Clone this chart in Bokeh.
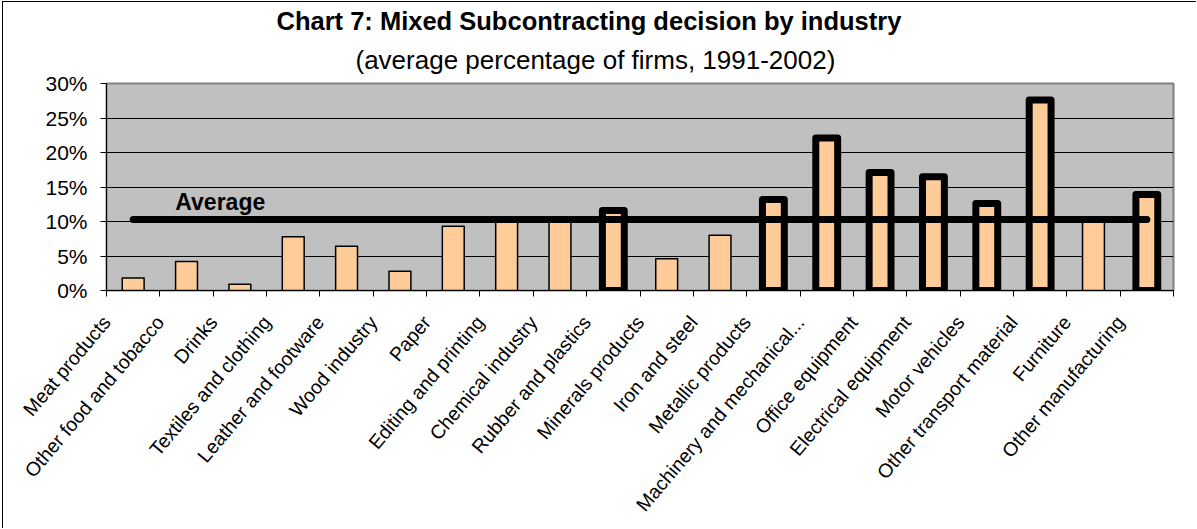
import math
from bokeh.plotting import figure
from bokeh.models import Range1d, FixedTicker, NumeralTickFormatter, Title, ColumnDataSource
from bokeh.core.properties import value
from bokeh.embed import file_html
from bokeh.resources import INLINE

industries = [
    "Meat products", "Other food and tobacco", "Drinks", "Textiles and clothing",
    "Leather and footware", "Wood industry", "Paper", "Editing and printing",
    "Chemical industry", "Rubber and plastics", "Minerals products", "Iron and steel",
    "Metallic products", "Machinery and mechanical...", "Office equipment",
    "Electrical equipment", "Motor vehicles", "Other transport material",
    "Furniture", "Other manufacturing",
]
shares = [0.018, 0.042, 0.009, 0.078, 0.064, 0.028, 0.093, 0.100, 0.100, 0.116,
          0.046, 0.080, 0.132, 0.221, 0.171, 0.165, 0.126, 0.276, 0.100, 0.139]
average = 0.103
y_ticks = [0.0, 0.05, 0.10, 0.15, 0.20, 0.25, 0.30]

FONT = "Liberation Sans"
n = len(industries)
centers = [i + 0.5 for i in range(n)]
boundaries = list(range(n + 1))
widths = [7 if s > average else 1.5 for s in shares]
src = ColumnDataSource(dict(x=centers, top=shares, lw=widths))

p = figure(width=1194, height=527, output_backend="svg", toolbar_location=None,
           x_range=Range1d(0, n), y_range=Range1d(0, 0.30),
           min_border_left=103, min_border_right=24, min_border_top=81, min_border_bottom=239,
           background_fill_color="white", border_fill_color="white")
p.styles = {"border-left": "1px solid black", "border-top": "1px solid black",
            "margin-left": "2px", "margin-top": "1px"}
p.title = None

sub = Title(text="(average percentage of firms, 1991-2002)", align="left", offset=249,
            text_font=FONT, text_font_size="26px", text_font_style="normal", text_color="black",
            standoff=17)
main = Title(text="Chart 7: Mixed Subcontracting decision by industry", align="left", offset=170,
             text_font=FONT, text_font_size="25.5px", text_font_style="bold", text_color="black",
             standoff=0)
p.add_layout(sub, "above")
p.add_layout(main, "above")

p.background_fill_color = "#C0C0C0"
p.outline_line_color = "#808080"
p.outline_line_width = 2

p.xgrid.visible = False
p.ygrid.ticker = FixedTicker(ticks=y_ticks)
p.ygrid.grid_line_color = "black"
p.ygrid.grid_line_width = 1

p.yaxis.ticker = FixedTicker(ticks=y_ticks)
p.yaxis.formatter = NumeralTickFormatter(format="0%")
p.yaxis.major_label_text_font = FONT
p.yaxis.major_label_text_font_size = "21px"
p.yaxis.major_label_text_color = "black"
p.yaxis.major_label_standoff = 13
p.yaxis.axis_line_color = "black"
p.yaxis.major_tick_line_color = "black"
p.yaxis.major_tick_out = 6
p.yaxis.major_tick_in = 0
p.yaxis.minor_tick_line_color = None

labels = {b: "" for b in boundaries}
for b, name in zip(boundaries, industries):
    labels[b] = name
p.xaxis.ticker = FixedTicker(ticks=boundaries)
p.xaxis.major_label_overrides = labels
p.xaxis.major_label_orientation = 0.87
p.xaxis.major_label_text_font = FONT
p.xaxis.major_label_text_font_size = "19.5px"
p.xaxis.major_label_text_color = "black"
p.xaxis.major_label_standoff = 22
p.xaxis.axis_line_color = "black"
p.xaxis.major_tick_line_color = "black"
p.xaxis.major_tick_out = 6
p.xaxis.major_tick_in = 0
p.xaxis.minor_tick_line_color = None

p.vbar(x="x", top="top", width=0.41, bottom=0, source=src,
       fill_color="#FFCC99", line_color="black", line_width="lw", line_join="round")
p.line(x=[centers[0], centers[-1]], y=[average, average], line_color="black",
       line_width=7, line_cap="round")
p.text(x=[1.29], y=[average], text=["Average"], text_font=value(FONT),
       text_font_size="23px", text_font_style="bold", text_color="black",
       text_align="left", text_baseline="alphabetic", y_offset=-17)

open("out.html", "w").write(file_html(p, INLINE))
